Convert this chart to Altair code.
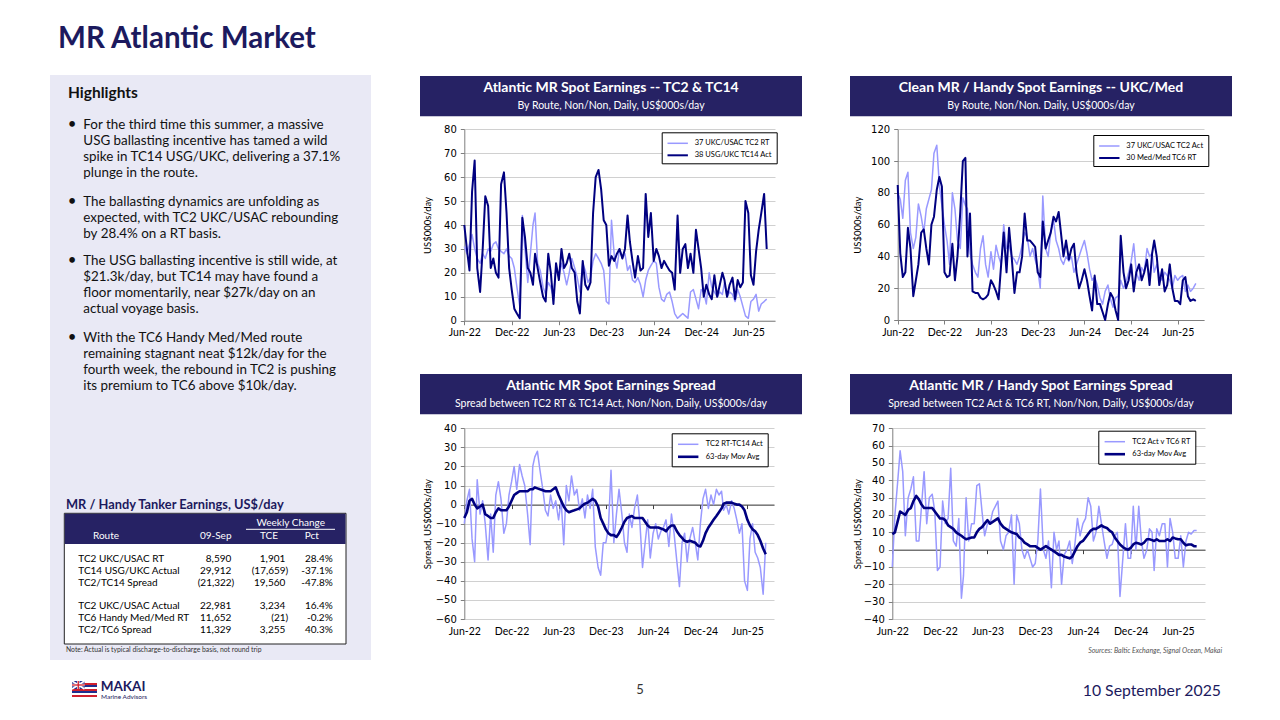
import altair as alt
import pandas as pd

W, H = 1264, 704
M = 8  # page margin: reference pixel -> canvas pixel

# ---------------- data ----------------
month_list = [(2022 + (5 + k) // 12, (5 + k) % 12 + 1) for k in range(40)]
dates = [f"{y}-{m:02d}-{d:02d}" for (y, m) in month_list for d in (1, 11, 21)][:116]

x_tick_months = [(2022, 6), (2022, 12), (2023, 6), (2023, 12), (2024, 6), (2024, 12), (2025, 6)]
x_domain_days = [(2022, 6, 1), (2025, 9, 12)]

names_1 = ["37 UKC/USAC TC2 RT", "38 USG/UKC TC14 Act"]
tc2_rt = [31, 28, 32, 36, 30, 26, 24, 28, 26, 30, 29, 32, 33, 30, 29, 28, 30, 27, 26, 22,
          14, 6, 44, 30, 16, 28, 40, 45, 24, 21, 14, 11, 16, 14, 10, 22, 18, 24, 20, 15,
          20, 26, 22, 18, 12, 24, 21, 16, 18, 25, 28, 26, 24, 21, 8, 7, 42, 27, 22, 30,
          26, 28, 21, 23, 17, 16, 18, 15, 10, 17, 21, 23, 25, 24, 14, 9, 8, 11, 12, 8,
          3, 1, 2, 3, 2, 1, 12, 13, 9, 5, 13, 12, 7, 20, 14, 12, 10, 12, 11, 16,
          10, 12, 11, 8, 13, 10, 6, 2, 1, 8, 9, 11, 4, 7, 8, 9]
tc14_act = [40, 30, 21, 54, 67, 22, 12, 30, 52, 48, 22, 26, 20, 18, 57, 62, 45, 22, 13, 5,
            3, 1, 43, 35, 22, 20, 15, 28, 22, 16, 10, 8, 28, 20, 7, 24, 17, 30, 22, 24,
            28, 22, 20, 8, 3, 25, 15, 13, 16, 45, 60, 63, 55, 42, 40, 23, 27, 25, 28, 30,
            26, 30, 44, 33, 25, 18, 27, 21, 22, 53, 35, 45, 25, 30, 27, 22, 25, 23, 21, 20,
            13, 44, 20, 30, 32, 22, 28, 20, 38, 30, 22, 10, 15, 11, 9, 19, 10, 15, 20, 17,
            10, 15, 18, 9, 17, 14, 16, 50, 45, 19, 15, 29, 38, 45, 53, 30]

names_2 = ["37 UKC/USAC TC2 Act", "30 Med/Med TC6 RT"]
tc2_act = [80, 76, 64, 88, 93, 55, 45, 52, 73, 65, 55, 70, 76, 82, 105, 110, 85, 72, 60, 50,
           35, 80, 70, 50, 45, 77, 72, 70, 42, 35, 30, 27, 45, 53, 35, 27, 43, 32, 47, 40,
           35, 60, 45, 47, 40, 38, 35, 40, 47, 55, 52, 40, 45, 38, 32, 20, 78, 45, 40, 55,
           63, 50, 45, 38, 35, 40, 37, 40, 30, 35, 40, 45, 50, 42, 32, 25, 27, 22, 14, 10,
           18, 22, 13, 8, 14, 15, 25, 20, 24, 30, 37, 48, 30, 25, 33, 30, 45, 40, 42, 30,
           35, 28, 25, 30, 28, 25, 20, 28, 25, 27, 28, 18, 22, 18, 20, 23]
tc6_rt = [85, 42, 27, 30, 58, 45, 15, 25, 35, 55, 57, 45, 35, 60, 65, 82, 90, 84, 30, 27,
          28, 48, 25, 40, 68, 100, 102, 40, 67, 18, 17, 17, 14, 13, 14, 16, 25, 22, 18, 13,
          35, 55, 30, 58, 40, 17, 30, 30, 40, 67, 50, 50, 48, 46, 30, 27, 62, 45, 50, 55,
          65, 62, 68, 55, 40, 50, 38, 45, 48, 30, 20, 25, 32, 25, 15, 6, 28, 10, 10, 5,
          0, 10, 17, 14, 6, 0, 53, 30, 20, 25, 35, 18, 30, 35, 25, 30, 38, 22, 42, 50,
          40, 22, 32, 18, 22, 35, 20, 12, 12, 10, 25, 27, 15, 12, 13, 12]

names_3 = ["TC2 RT-TC14 Act", "63-day Mov Avg"]
spread_tc2_tc14 = [-10, 2, 8, -18, -30, 13, -5, 2, -10, -29, -5, -25, 5, 12, 3, -15, -10, 5, 12, 20,
                   8, 21, 15, 10, -5, -21, 20, 25, 28, 18, 8, -3, -6, 5, -2, 2, -8, 2, -21, 10,
                   2, 15, 5, 8, -3, 3, -7, 5, -2, 8, -22, -33, -37, -20, -20, -12, 18, -20, -5, 8,
                   -5, -20, -25, -5, -12, -2, 5, -10, -33, -20, -8, -28, -15, -10, -18, -14, -12, -8, -22, -5,
                   -15, -30, -43, -20, -15, -30, -18, -12, -20, -29, -10, 3, 8, -2, 5, 0, 8, 5, 7, -3,
                   0, -5, 2, -2, -8, -15, -10, -40, -45, -18, -10, -25, -28, -33, -47, -20]
mavg_tc2_tc14 = [-7, -4, 2, 3, 0, -2, -1, 0, -5, -6, -7, -7, -4, -2, -3, -3, -3, -1, 2, 5,
                 6, 7, 7, 7, 7, 8, 8, 9, 8.5, 8, 7.5, 7, 7, 7, 8, 9, 5, 2, -1, -3,
                 -4, -3.5, -3, -2.5, -2, -0.5, 0.5, 1, 2, 3, 2, -1, -7, -10, -13, -15, -16, -16, -17, -15,
                 -12, -9, -7, -6.5, -6, -7, -7, -7, -7, -9, -11, -12, -12, -12, -12, -12.5, -13, -14, -12, -11,
                 -11, -14, -16, -17.5, -19, -19.5, -19, -19.5, -20, -21.5, -22, -19, -15, -12, -10, -8, -6, -4, -2, 0.5,
                 1, 1, 1, 0.5, 0, 0, -1, -3, -8, -11, -13, -14, -16, -19, -23, -26]

names_4 = ["TC2 Act v TC6 RT", "63-day Mov Avg"]
spread_tc2_tc6 = [-10, 20, 38, 57, 45, 8, 30, 35, 42, 5, 5, 25, 45, 15, 30, 32, 22, -12, -10, 28,
                  15, 18, 47, 5, 2, 18, -28, -15, 30, 5, 15, 15, 37, 38, 22, 8, 15, 15, 22, 25,
                  28, 5, 0, 8, 10, 20, -20, 20, 15, 0, -5, 0, -5, -10, -8, 5, 35, 0, -5, 5,
                  -22, 10, 0, 5, -20, -3, 0, 5, -8, 3, 18, 8, 15, 18, 30, 25, 5, 10, 25, 15,
                  5, -5, 2, 3, 8, 10, -27, -5, 15, -5, -5, 25, 0, 25, 5, -5, 0, 12, 10, -12,
                  12, 8, 15, 15, -10, 18, 10, -5, -5, 8, -10, 5, 10, 9, 11, 11]
mavg_tc2_tc6 = [9, 10, 16, 22, 21, 20, 23, 24, 28, 31, 29, 26, 24, 24, 24, 24, 22, 20, 18, 18,
                17, 14, 13, 12, 10, 9, 8, 7, 6, 6.5, 7, 7, 10, 12, 13, 15, 17, 15, 16, 17,
                18, 15, 13, 12, 11, 10, 9.5, 9, 7, 6, 4, 3, 2, 2, 2, 1, 0, 1, 2, 1,
                0, -1, -2, -3, -3, -4, -4.5, -5, -4, -1, 2, 4, 5, 7, 9, 11, 12, 12, 13, 14,
                13, 12.5, 11, 10, 7, 5, 3, 1.5, 0.5, 0, 1, 3, 4, 3.5, 3, 4, 6, 6, 5.5, 5,
                6, 5, 5, 5, 6, 5, 7, 6.5, 6, 6, 4, 2.5, 3, 3, 2, 2]

y_ticks_1 = [0, 10, 20, 30, 40, 50, 60, 70, 80]
y_ticks_2 = [0, 20, 40, 60, 80, 100, 120]
y_ticks_3 = [-60, -50, -40, -30, -20, -10, 0, 10, 20, 30, 40]
y_ticks_4 = [-40, -30, -20, -10, 0, 10, 20, 30, 40, 50, 60, 70]

table_routes = ["TC2 UKC/USAC RT", "TC14 USG/UKC Actual", "TC2/TC14 Spread",
                "TC2 UKC/USAC Actual", "TC6 Handy Med/Med RT", "TC2/TC6 Spread"]
table_sep09 = [8590, 29912, -21322, 22981, 11652, 11329]
table_tce = [1901, -17659, 19560, 3234, -21, 3255]
table_pct = [28.4, -37.1, -47.8, 16.4, -0.2, 40.3]

bullets = [
    ["For the third time this summer, a massive", "USG ballasting incentive has tamed a wild",
     "spike in TC14 USG/UKC, delivering a 37.1%", "plunge in the route."],
    ["The ballasting dynamics are unfolding as", "expected, with TC2 UKC/USAC rebounding",
     "by 28.4% on a RT basis."],
    ["The USG ballasting incentive is still wide, at", "$21.3k/day, but TC14 may have found a",
     "floor momentarily, near $27k/day on an", "actual voyage basis."],
    ["With the TC6 Handy Med/Med route", "remaining stagnant neat $12k/day for the",
     "fourth week, the rebound in TC2 is pushing", "its premium to TC6 above $10k/day."],
]

# ---------------- style ----------------
NAVY = "#262264"
TITLE_NAVY = "#1c1a5e"
LIGHT = "#9999ff"
DARK = "#000080"
PANEL = "#e9e9f5"
GRIDC = "#d0d0d0"
AXC = "#7f7f7f"

X_DOMAIN = [alt.DateTime(year=y, month=m, date=d, utc=True) for (y, m, d) in x_domain_days]
X_TICKS = [alt.DateTime(year=y, month=m, date=1, utc=True) for (y, m) in x_tick_months]


def R(v):
    return v - M


def one():
    return alt.Data(values=[{"k": 0}])


def text_layer(s, x, y, size, color="#000000", weight="normal", align="left",
               baseline="alphabetic", style="normal", font="Lato", line_height=None):
    mk = dict(font=font, fontSize=size, color=color, fontWeight=weight, align=align,
              baseline=baseline, fontStyle=style)
    if line_height:
        mk["lineHeight"] = line_height
    return alt.Chart(one()).mark_text(**mk).encode(
        x=alt.value(R(x)), y=alt.value(R(y)), text=alt.value(s))


def rect_layer(x0, y0, x1, y1, fill, stroke=None, sw=1):
    mk = dict(fill=fill)
    if stroke:
        mk.update(stroke=stroke, strokeWidth=sw)
    return alt.Chart(one()).mark_rect(**mk).encode(
        x=alt.value(R(x0)), x2=alt.value(R(x1)), y=alt.value(R(y0)), y2=alt.value(R(y1)))


def rule_layer(x0, y0, x1, y1, color, sw=1):
    return alt.Chart(one()).mark_rule(color=color, strokeWidth=sw).encode(
        x=alt.value(R(x0)), x2=alt.value(R(x1)), y=alt.value(R(y0)), y2=alt.value(R(y1)))


def frame(names, s1, s2):
    return pd.DataFrame({"date": dates * 2, "value": list(s1) + list(s2),
                         "series": [names[0]] * len(s1) + [names[1]] * len(s2)})


def panel(df, names, widths, xr, yd, yr, yt, ytitle, title_dx, leg_xy, spread=False):
    x0, x1 = R(xr[0]), R(xr[1])
    yb, ytop = R(yr[0]), R(yr[1])
    xscale = alt.Scale(type="utc", domain=X_DOMAIN, range=[x0, x1], nice=False)
    yscale = alt.Scale(domain=yd, range=[yb, ytop], nice=False, zero=False)
    common_x = dict(orient="bottom", offset=yb - H, values=X_TICKS, format="%b-%y",
                    labelFlush=False, grid=False, labelFont="Lato", labelFontSize=10.5,
                    labelColor="#000000", title=None)
    if spread:
        xaxis = alt.Axis(domain=False, ticks=False, tickSize=0, labelPadding=7, **common_x)
    else:
        xaxis = alt.Axis(domainColor=AXC, tickColor=AXC, tickSize=4, labelPadding=3, **common_x)
    yaxis = alt.Axis(orient="left", offset=-x0, values=yt, grid=True, gridColor=GRIDC,
                     gridWidth=1, domainColor=AXC, tickColor=AXC, tickSize=4, labelPadding=4,
                     labelFont="DejaVu Sans", labelFontSize=10, labelColor="#000000",
                     title=ytitle, titleFont="Lato", titleFontSize=9.5,
                     titleFontWeight="normal", titleColor="#000000", titleAngle=270,
                     titleAlign="center", titleBaseline="middle", titleX=title_dx,
                     titleY=(yb + ytop) / 2)
    leg = alt.Legend(orient="none", legendX=R(leg_xy[0]), legendY=R(leg_xy[1]), title=None,
                     direction="vertical", labelFont="Lato", labelFontSize=7.5,
                     labelColor="#000000", labelLimit=200, symbolType="M-1.7,0H1.7",
                     symbolSize=144, symbolOffset=5, labelOffset=10, padding=4, rowPadding=1,
                     strokeColor="#000000", fillColor="#ffffff", cornerRadius=0)
    layers = []
    if spread:
        zero_px = yb + (0 - yd[0]) / (yd[1] - yd[0]) * (ytop - yb)
        zaxis = alt.Axis(orient="bottom", offset=zero_px - H, values=X_TICKS, labels=False,
                         grid=False, domainColor="#404040", tickColor="#404040", tickSize=4,
                         title=None)
        layers.append(alt.Chart(df).mark_line(opacity=0).encode(
            x=alt.X("date:T", scale=xscale, axis=zaxis),
            y=alt.Y("value:Q", scale=yscale, axis=None)))
    layers.append(alt.Chart(df).mark_line(strokeJoin="round").encode(
        x=alt.X("date:T", scale=xscale, axis=xaxis),
        y=alt.Y("value:Q", scale=yscale, axis=yaxis),
        color=alt.Color("series:N", scale=alt.Scale(domain=names, range=[LIGHT, DARK]), legend=leg),
        strokeWidth=alt.StrokeWidth("series:N", scale=alt.Scale(domain=names, range=widths), legend=leg),
    ))
    return layers


def header(x0, x1, y0, title, sub):
    cx = (x0 + x1) / 2
    return [rect_layer(x0, y0, x1, y0 + 40.3, NAVY),
            text_layer(title, cx, y0 + 11.7, 14, "#ffffff", "bold", "center", "middle"),
            text_layer(sub, cx, y0 + 30, 10.5, "#ffffff", "normal", "center", "middle")]


def fmt_num(v):
    s = f"{abs(v):,}"
    return f"({s})" if v < 0 else s


layers = []

# page title
layers.append(text_layer("MR Atlantic Market", 58, 48.3, 29.5, TITLE_NAVY, "bold"))

# left highlights panel
layers.append(rect_layer(50, 75, 371, 660, PANEL))
layers.append(text_layer("Highlights", 68, 97.7, 15.5, "#111111", "bold"))
para_baselines = [129.3, 205.7, 265, 341.7]
for lines, yb in zip(bullets, para_baselines):
    layers.append(text_layer("\u2022", 72, yb, 15, "#111111", "normal", "center"))
    layers.append(text_layer(lines, 83.3, yb, 13.4, "#111111", line_height=16))

# table
layers.append(text_layer("MR / Handy Tanker Earnings, US$/day", 66, 509.3, 12.8, TITLE_NAVY, "bold"))
layers.append(rect_layer(64.3, 513.3, 346, 644, "#ffffff", "#222222", 1))
layers.append(rect_layer(64.8, 513.8, 345.5, 544, NAVY))
layers.append(text_layer("Weekly Change", 290.7, 523.3, 10, "#ffffff", "normal", "center", "middle"))
layers.append(rule_layer(246, 529.3, 335, 529.3, "#ffffff", 1))
for lab, cx in [("Route", 106), ("09-Sep", 215.7), ("TCE", 269), ("Pct", 311.7)]:
    layers.append(text_layer(lab, cx, 535.7, 10, "#ffffff", "normal", "center", "middle"))
row_y = [559.3, 571.3, 583.3, 605.7, 617.7, 629.7]
for i, yc in enumerate(row_y):
    layers.append(text_layer(table_routes[i], 78.3, yc, 10, "#000000", baseline="middle"))
    for val, right in [(table_sep09[i], 234.3), (table_tce[i], 288.3)]:
        xr = right if val < 0 else right - 3
        layers.append(text_layer(fmt_num(val), xr, yc, 10, "#000000", align="right", baseline="middle"))
    layers.append(text_layer(f"{table_pct[i]:.1f}%", 332.7, yc, 10, "#000000", align="right", baseline="middle"))
layers.append(text_layer("Note: Actual is typical discharge-to-discharge basis, not round trip",
                         66, 650, 6.8, "#333333", baseline="middle"))

# chart headers
layers += header(420, 802, 76, "Atlantic MR Spot Earnings -- TC2 & TC14",
                 "By Route, Non/Non, Daily, US$000s/day")
layers += header(850, 1232, 76, "Clean MR / Handy Spot Earnings -- UKC/Med",
                 "By Route, Non/Non. Daily, US$000s/day")
layers += header(420, 802, 374, "Atlantic MR Spot Earnings Spread",
                 "Spread between TC2 RT & TC14 Act, Non/Non, Daily, US$000s/day")
layers += header(850, 1232, 374, "Atlantic MR / Handy Spot Earnings Spread",
                 "Spread between TC2 Act & TC6 RT, Non/Non, Daily, US$000s/day")

# charts
layers += panel(frame(names_1, tc2_rt, tc14_act), names_1, [1.5, 2.0],
                (464.3, 775), [0, 80], (320.7, 129.3), y_ticks_1, "US$000s/day", -37,
                (661.7, 132.3))
layers += panel(frame(names_2, tc2_act, tc6_rt), names_2, [1.5, 2.0],
                (897.7, 1204), [0, 120], (320, 129.3), y_ticks_2, "US$000s/day", -40.4,
                (1093.3, 135))
layers += panel(frame(names_3, spread_tc2_tc14, mavg_tc2_tc14), names_3, [1.5, 2.6],
                (464.3, 774), [-60, 40], (619, 428.3), y_ticks_3, "Spread, US$000s/day", -37,
                (671.7, 433.3), spread=True)
layers += panel(frame(names_4, spread_tc2_tc6, mavg_tc2_tc6), names_4, [1.5, 2.6],
                (892.3, 1205), [-40, 70], (619, 428.3), y_ticks_4, "Spread, US$000s/day", -35,
                (1098.3, 430.7), spread=True)

layers.append(text_layer("Sources: Baltic Exchange, Signal Ocean, Makai", 1222, 651, 7,
                         "#555555", align="right", baseline="middle", style="italic"))

# footer: logo, page number, date
stripe_cols = ["#ffffff", "#d0202e", "#1f2f8f", "#ffffff", "#d0202e", "#1f2f8f", "#ffffff", "#d0202e"]
for k, c in enumerate(stripe_cols):
    layers.append(rect_layer(72, 681 + 2 * k, 97, 683 + 2 * k, c))
layers.append(rect_layer(72, 681, 84.5, 689, "#1f2f8f"))
layers.append(rule_layer(72, 681, 84.5, 689, "#ffffff", 1.6))
layers.append(rule_layer(72, 689, 84.5, 681, "#ffffff", 1.6))
layers.append(rule_layer(72, 685, 84.5, 685, "#ffffff", 2.6))
layers.append(rule_layer(78.25, 681, 78.25, 689, "#ffffff", 2.6))
layers.append(rule_layer(72, 685, 84.5, 685, "#d0202e", 1.3))
layers.append(rule_layer(78.25, 681, 78.25, 689, "#d0202e", 1.3))
layers.append(text_layer("MAKAI", 100.7, 691, 13.5, TITLE_NAVY, "bold"))
layers.append(text_layer("Marine Advisors", 101, 699, 6.5, TITLE_NAVY))
layers.append(text_layer("5", 640, 690, 13, "#333333", align="center", baseline="middle"))
layers.append(text_layer("10 September 2025", 1221, 691, 15.8, TITLE_NAVY, align="right", baseline="middle"))

chart = (
    alt.layer(*layers)
    .resolve_scale(x="independent", y="independent", color="independent", strokeWidth="independent")
    .resolve_axis(x="independent", y="independent")
    .resolve_legend(color="independent", strokeWidth="independent")
    .properties(width=W, height=H, padding=0, background="white",
                autosize=alt.AutoSizeParams(type="none"))
    .configure_view(strokeWidth=0)
)

chart.save("out.html", embed_options={"renderer": "svg", "actions": False})
